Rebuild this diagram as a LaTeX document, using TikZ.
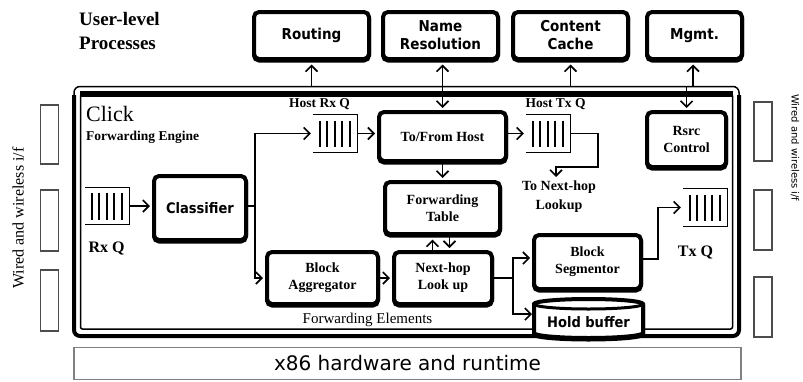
\documentclass[tikz,border=0pt]{standalone}
\usepackage{fontspec}
\setmainfont{Liberation Serif}
\newfontfamily\dvsans[FakeStretch=0.9]{DejaVu Sans}
\newfontfamily\dvsansr{DejaVu Sans}
\usetikzlibrary{arrows.meta}
\newcommand\qbox[3]{%
  \node[qnode] (#1) at (#2,#3) {};
  \draw[line width=1.2pt] (#1.north west) -- (#1.north east) -- (#1.south east) -- (#1.south west);
  \foreach \dx in {7,14,22,29,37}
    \draw[line width=2pt] ([xshift=\dx pt, yshift=-6pt]#1.north west) -- ([xshift=\dx pt, yshift=5pt]#1.south west);
}
\begin{document}
\begin{tikzpicture}[x=1pt,y=-1pt,
  bx/.style={draw, line width=4pt, rounded corners=5pt, fill=white, inner sep=0pt, align=center,
    preaction={draw, line width=4pt, transform canvas={yshift=-1.5pt}}},
  sfb/.style={font=\dvsans\bfseries\fontsize{15}{18}\selectfont},
  sfc/.style={font=\dvsans\bfseries\fontsize{14.5}{17}\selectfont},
  srb/.style={font=\bfseries\fontsize{14}{17}\selectfont},
  lbl/.style={inner sep=0pt, align=center},
  qnode/.style={minimum width=44pt, minimum height=37pt, inner sep=0pt},
  ifbox/.style={draw=black!70, line width=1.2pt, minimum width=18pt, inner sep=0pt},
  ln/.style={line width=1.6pt},
  arr/.style={line width=1.6pt, -{Straight Barb[length=6pt,width=12pt]}, shorten >=2pt},
  arru/.style={line width=1.6pt, -{Straight Barb[length=6pt,width=12pt]}, shorten >=3.5pt},
]
\useasboundingbox (0,0) rectangle (803,381);
\clip (0,0) rectangle (803,381);

% ---- frame ----
\draw[line width=1.5pt, rounded corners=6pt] (74,86.5) rectangle (739,336);
\draw[line width=4pt, rounded corners=6pt] (74,95) -- (74,336) -- (739,336) -- (739,95);
\draw[line width=1.5pt, rounded corners=2pt] (80.5,94) rectangle (732.5,329);
\draw[line width=6pt] (80,94) -- (733,94);
\coordinate (ftop) at (0,86.5);

% ---- texts ----
\node[anchor=west, align=left, inner sep=0pt, font=\bfseries\fontsize{19}{24}\selectfont] (ulp) at (79,31) {User-level\\Processes};
\node[anchor=base west, inner sep=0pt, font=\fontsize{22}{24}\selectfont] (click) at (86,121) {Click};
\node[anchor=base west, inner sep=0pt, font=\bfseries\fontsize{13.5}{16}\selectfont] (fe) at (86,140) {Forwarding Engine};
\node[lbl, font=\bfseries\fontsize{13.5}{15}\selectfont] (hrxl) at (319.5,104) {Host Rx Q};
\node[lbl, font=\bfseries\fontsize{13.5}{15}\selectfont] (htxl) at (555.5,104) {Host Tx Q};
\node[lbl, font=\bfseries\fontsize{16}{18}\selectfont] (rxl) at (106.5,248) {Rx Q};
\node[lbl, font=\bfseries\fontsize{16}{18}\selectfont] (txl) at (695.5,252) {Tx Q};
\node[lbl, font=\fontsize{15}{17}\selectfont] (fel) at (367.5,320) {Forwarding Elements};
\node[lbl, font=\bfseries\fontsize{14}{19}\selectfont] (tonext) at (559,197) {To Next-hop\\Lookup};

% ---- top boxes ----
\node[bx, sfb, minimum width=115pt, minimum height=47pt] (routing) at (311.5,35.5) {Routing};
\node[bx, sfb, minimum width=115pt, minimum height=47pt] (nameres) at (440.5,35.5) {Name\\Resolution};
\node[bx, sfb, minimum width=115pt, minimum height=47pt] (content) at (570.5,35.5) {Content\\Cache};
\node[bx, sfb, minimum width=95pt, minimum height=47pt] (mgmt) at (694.5,35.5) {Mgmt.};

% ---- inner boxes ----
\node[bx, srb, minimum width=127pt, minimum height=49pt] (tofrom) at (442.5,136.5) {To/From Host};
\node[bx, srb, minimum width=79pt, minimum height=55pt] (rsrc) at (686.5,139.5) {Rsrc\\Control};
\node[bx, sfc, minimum width=92pt, minimum height=64pt] (classifier) at (200,208) {Classifier};
\node[bx, srb, minimum width=115pt, minimum height=52pt] (fwdtable) at (442.5,208) {Forwarding\\Table};
\node[bx, srb, minimum width=111pt, minimum height=52pt] (blockagg) at (322.5,278) {Block\\Aggregator};
\node[bx, srb, minimum width=98pt, minimum height=52pt] (nexthop) at (443,278) {Next-hop\\Look up};
\node[bx, srb, minimum width=107pt, minimum height=54pt] (blockseg) at (587.5,262) {Block\\Segmentor};

% ---- hold buffer (cylinder) ----
\draw[line width=4pt, fill=white, preaction={draw, line width=4pt, transform canvas={yshift=-1.5pt}}]
  (534,304) -- (534,333) arc[start angle=180, end angle=0, x radius=54.5, y radius=5]
  -- (643,304) arc[start angle=0, end angle=-180, x radius=54.5, y radius=5] -- cycle;
\draw[line width=3pt] (534,304) arc[start angle=180, end angle=0, x radius=54.5, y radius=5];
\node[lbl, sfc, minimum width=109pt] (hold) at (588.5,322) {Hold buffer};

% ---- queues ----
\qbox{hostrx}{335}{133.5}
\qbox{hosttx}{548}{133.5}
\qbox{rxq}{107.5}{206}
\qbox{txq}{705}{207.5}

% ---- interface boxes ----
\node[ifbox, minimum height=59pt] (l1) at (49.5,134.5) {};
\node[ifbox, minimum height=61pt] (l2) at (49.5,220.5) {};
\node[ifbox, minimum height=61pt] (l3) at (49.5,300.5) {};
\node[ifbox, minimum height=59pt] (r1) at (763,131.5) {};
\node[ifbox, minimum height=60pt] (r2) at (763,220) {};
\node[ifbox, minimum height=60pt] (r3) at (763,307) {};
\node[rotate=90, inner sep=0pt, font=\fontsize{16}{18}\selectfont] (wl) at (18,218) {Wired and wireless i/f};
\node[rotate=-90, anchor=south west, inner sep=0pt, font=\dvsansr\fontsize{10}{12}\selectfont] (wr) at (790.5,94) {Wired and wireless i/f};

% ---- x86 ----
\node[draw=black!50, line width=1.5pt, minimum width=667pt, minimum height=32pt, inner sep=0pt,
  font=\dvsansr\fontsize{20}{24}\selectfont] (hw) at (407.5,363.5) {x86 hardware and runtime};

% ---- connectors ----
\draw[arru] (routing.south |- ftop) -- (routing.south);
\draw[line width=1.6pt, {Straight Barb[length=6pt,width=12pt]}-{Straight Barb[length=6pt,width=12pt]}, shorten <=3.5pt, shorten >=2pt]
  (nameres.south -| tofrom.north) -- (tofrom.north);
\draw[arru] (content.south |- ftop) -- (content.south);
\draw[arru] ([xshift=-1.5pt]mgmt.south |- ftop) -- ([xshift=-1.5pt]mgmt.south);
\draw[arr] (rsrc.north |- ftop) -- (rsrc.north);

\draw[arr] (rxq.east) -- (classifier.west |- rxq.east);
\coordinate (j1) at (255,206);
\draw[ln] (classifier.east |- j1) -- (j1);
\draw[arr] (j1) |- (hostrx.west);
\draw[arr] (j1) |- (blockagg.west);
\draw[arr] (hostrx.east) -- (hostrx.east -| tofrom.west);
\draw[arr] (tofrom.east |- hosttx.west) -- (hosttx.west);
\coordinate (tnx) at (556,179);
\draw[arr] (hosttx.east) -| (598,167) -| (tnx);
\draw[arr] (tofrom.south) -- (fwdtable.north);
\draw[arru] ([xshift=-10.5pt]nexthop.north) -- ([xshift=-10.5pt]nexthop.north |- fwdtable.south);
\draw[arr] ([xshift=7pt]fwdtable.south) -- ([xshift=7pt]fwdtable.south |- nexthop.north);
\draw[arr] (blockagg.east) -- (nexthop.west);
\coordinate (j2) at (513,278);
\draw[ln] (nexthop.east) -- (j2);
\draw[arr] (j2) |- ([yshift=4pt]blockseg.west);
\draw[arr] (j2) |- ([xshift=-54.5pt, yshift=8pt]hold.center);
\draw[arr] ([yshift=3pt]blockseg.east) -| ([xshift=-25pt]txq.west) -- (txq.west);
\end{tikzpicture}
\end{document}
